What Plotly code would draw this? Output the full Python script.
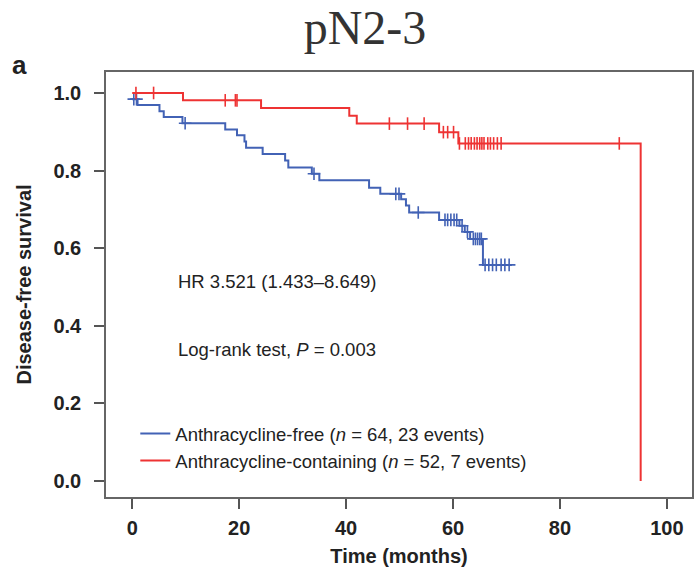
import numpy as np
import plotly.graph_objects as go

# ---- data ----
free_times = [0, 1.0, 5.1, 5.9, 9.4, 17.4, 19.6, 21.0, 21.3, 24.4, 28.6, 29.2, 33.6, 35.0,
              44.3, 46.4, 50.3, 51.2, 51.8, 57.4, 61.2, 62.2, 63.2, 65.6]
free_surv = [0.984, 0.969, 0.953, 0.938, 0.922, 0.906, 0.891, 0.875, 0.859, 0.843, 0.826,
             0.808, 0.792, 0.775, 0.756, 0.740, 0.726, 0.710, 0.692, 0.673, 0.658, 0.642,
             0.624, 0.557]
free_end = 71.0
free_censor = [0.3, 0.8, 9.9, 34.0, 49.3, 49.9, 53.5, 58.5, 59.0, 59.6, 60.2, 60.7, 61.7,
               62.7, 63.8, 64.2, 64.6, 65.0, 65.3, 66.0, 66.7, 67.4, 68.1, 69.0, 69.7, 70.5]

cont_times = [0, 9.5, 24.1, 40.6, 42.0, 57.4, 61.0, 95.1]
cont_surv = [1.0, 0.981, 0.961, 0.941, 0.921, 0.899, 0.870, 0.0]
cont_censor = [0.7, 4.0, 17.4, 19.3, 19.6, 48.1, 51.5, 54.6, 58.2, 59.0, 60.1, 61.2, 62.3,
               62.9, 63.4, 64.0, 64.5, 65.0, 65.4, 65.8, 66.5, 67.0, 67.6, 68.3, 69.0, 91.1]

x_ticks = [0, 20, 40, 60, 80, 100]
y_ticks = [0.0, 0.2, 0.4, 0.6, 0.8, 1.0]

BLUE = "#4262b5"
RED = "#ee3333"


def surv_at(times, surv, t):
    idx = np.searchsorted(np.array(times), np.array(t), side="right") - 1
    return [surv[i] for i in idx]


fig = go.Figure()

fig.add_trace(go.Scatter(
    x=free_times + [free_end], y=free_surv + [free_surv[-1]],
    mode="lines", line=dict(color=BLUE, width=2, shape="hv"),
    name="Anthracycline-free (<i>n</i> = 64, 23 events)", legendgroup="a"))
fig.add_trace(go.Scatter(
    x=free_censor, y=surv_at(free_times, free_surv, free_censor), mode="markers",
    marker=dict(symbol="cross-thin", size=9, line=dict(color=BLUE, width=1.6)),
    showlegend=False, hoverinfo="skip"))

fig.add_trace(go.Scatter(
    x=cont_times, y=cont_surv,
    mode="lines", line=dict(color=RED, width=2, shape="hv"),
    name="Anthracycline-containing (<i>n</i> = 52, 7 events)", legendgroup="b"))
fig.add_trace(go.Scatter(
    x=cont_censor, y=surv_at(cont_times, cont_surv, cont_censor), mode="markers",
    marker=dict(symbol="line-ns", size=9, line=dict(color=RED, width=1.6)),
    showlegend=False, hoverinfo="skip"))

axis_font = dict(family="Liberation Sans", size=20, color="#222", weight="bold")
text_font = dict(family="Liberation Sans", size=18.5, color="#222")

fig.update_layout(
    width=694, height=572,
    margin=dict(l=106, r=2, t=72, b=75),
    paper_bgcolor="white", plot_bgcolor="white",
    font=text_font,
    title=dict(text="pN2-3", x=0.526, xanchor="center", y=0.953, yanchor="middle",
               font=dict(family="Liberation Serif", size=48, color="#333")),
    xaxis=dict(range=[-4.9, 104.7], tickvals=x_ticks, ticks="outside", ticklen=10,
               tickwidth=1.5, tickcolor="#555", showline=True, mirror=True,
               linecolor="#666", linewidth=1.5, showgrid=False, zeroline=False,
               tickfont=axis_font, automargin=False, ticklabelstandoff=2,
               title=dict(text="Time (months)", font=axis_font, standoff=11)),
    yaxis=dict(range=[-0.041, 1.054], tickvals=y_ticks, tickformat=".1f",
               ticks="outside", ticklen=10, tickwidth=1.5, tickcolor="#555",
               showline=True, mirror=True, linecolor="#666", linewidth=1.5,
               showgrid=False, zeroline=False, tickfont=axis_font, automargin=False,
               ticklabelstandoff=9,
               title=dict(text="Disease-free survival", font=axis_font, standoff=16)),
    legend=dict(x=0.05, y=0.193, xanchor="left", yanchor="top",
                bgcolor="rgba(0,0,0,0)", font=text_font, tracegroupgap=0),
    showlegend=True,
)

fig.add_annotation(text="HR 3.521 (1.433–8.649)", xref="x", yref="y", x=8.1, y=0.515,
                   xanchor="left", yanchor="middle", showarrow=False, font=text_font)
fig.add_annotation(text="Log-rank test, <i>P</i> = 0.003", xref="x", yref="y", x=8.1,
                   y=0.34, xanchor="left", yanchor="middle", showarrow=False,
                   font=text_font)
fig.add_annotation(text="a", xref="paper", yref="paper", x=-0.147, y=0.976,
                   xanchor="center", yanchor="bottom", showarrow=False,
                   font=dict(family="Liberation Sans", size=26, color="#222",
                             weight="bold"))

# remove the default 8 px page margin so the figure fills the window exactly
fig.write_html("out.html", config={"displayModeBar": False},
               post_script="document.body.style.margin = '0';")
